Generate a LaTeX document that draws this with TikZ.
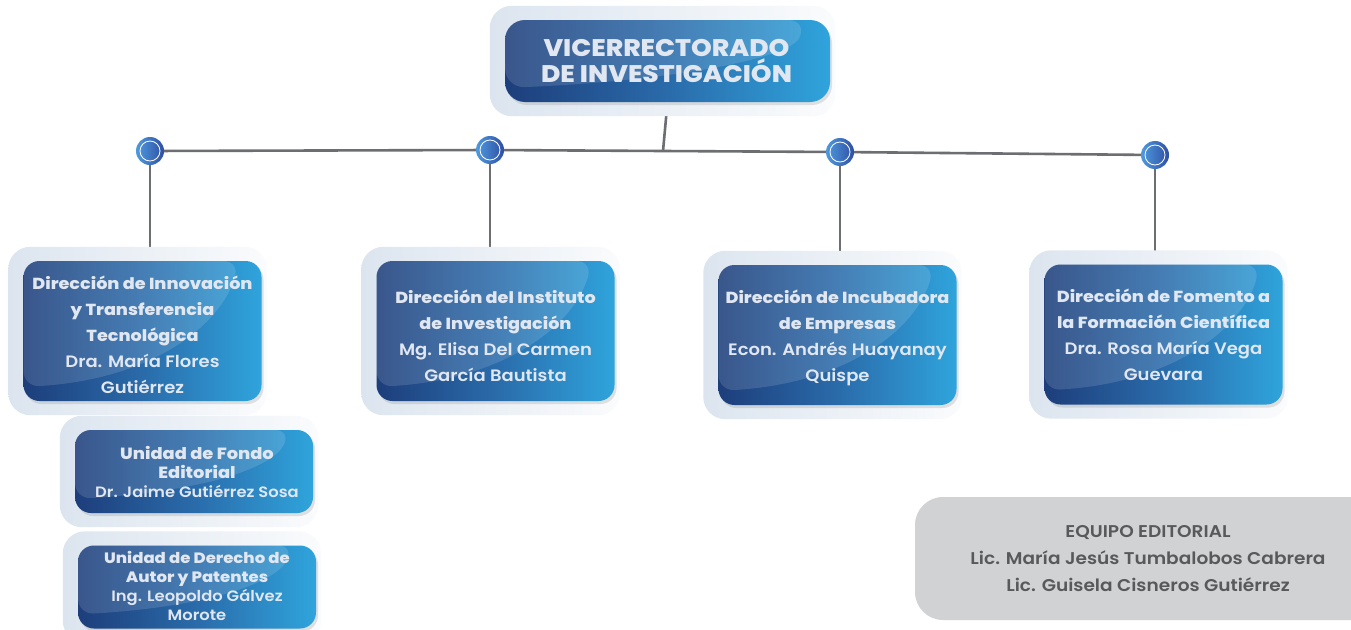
\documentclass[tikz,border=0pt]{standalone}
\usepackage{fontspec}
\setmainfont{Poppins}
\IfFontExistsTF{Poppins ExtraBold}
  {\newfontfamily\heavy{Poppins ExtraBold}[FakeStretch=1.1]}
  {\newfontfamily\heavy{Poppins}[UprightFont={* Bold},FakeStretch=1.1]}
\IfFontExistsTF{Poppins SemiBold}
  {\newfontfamily\semib{Poppins SemiBold}[FakeStretch=1.09]}
  {\IfFontExistsTF{Poppins Medium}
    {\newfontfamily\semib{Poppins Medium}[FakeStretch=1.1]}
    {\newfontfamily\semib{Poppins}[FakeStretch=1.12]}}
\newcommand\bigt{\fontsize{16}{26}\selectfont\heavy}
\newcommand\bign{\fontsize{16.5}{26}\selectfont\semib}
\newcommand\smt{\fontsize{16.2}{19}\selectfont\heavy}
\newcommand\smtb{\fontsize{15}{19}\selectfont\heavy}
\newcommand\smn{\fontsize{15}{19}\selectfont\semib}
\usetikzlibrary{calc,shadows}
\definecolor{navy}{HTML}{1D3E7B}
\definecolor{midblue}{HTML}{2A6BAA}
\definecolor{sky}{HTML}{2FA4DC}
\definecolor{txt}{HTML}{E1E7F0}
\definecolor{halocol}{HTML}{DCE5EF}
\definecolor{linegray}{HTML}{6D6E71}
\definecolor{graybox}{HTML}{D1D2D4}
\definecolor{graytxt}{HTML}{58595B}
\definecolor{dotL}{HTML}{4F9ADF}
\definecolor{dotR}{HTML}{2F4FA3}
\pgfdeclarelayer{paper}
\pgfdeclarelayer{lines}
\pgfdeclarelayer{bg}
\pgfsetlayers{paper,lines,bg,main}
\newcommand\glossfill{%
  \coordinate (gsw) at (path picture bounding box.south west);
  \coordinate (gse) at (path picture bounding box.south east);
  \coordinate (gnw) at (path picture bounding box.north west);
  \coordinate (gne) at (path picture bounding box.north east);
  \fill[white,opacity=0.13] ([yshift=14pt]gsw)
    .. controls ([yshift=22pt]$(gsw)!0.55!(gse)$) and ([xshift=-40pt]$(gse)!0.55!(gne)$)
    .. ([xshift=-22pt]gne) -- (gnw) -- cycle;}
\newcommand\halobox[1]{%
  \shade[halostyle] ([xshift=-15pt,yshift=14pt]#1.north west) rectangle ([xshift=5pt,yshift=-14pt]#1.south east);}
\tikzset{
  unit/.style={rounded corners=16pt, left color=navy, right color=sky, middle color=midblue,
    inner sep=0pt,
    drop shadow={opacity=0.22,shadow xshift=2pt,shadow yshift=-3pt},
    path picture={\glossfill}},
  utext/.style={text=txt, align=center, inner sep=0pt},
  bigtext/.style={utext, font=\fontsize{16.5}{26}\selectfont},
  smalltext/.style={utext, font=\fontsize{15.5}{19}\selectfont},
  halostyle/.style={rounded corners=22pt, left color=halocol, right color=halocol!15!white},
  bignode/.style={unit, minimum width=238pt, minimum height=140pt},
  smallnode/.style={unit, minimum width=238pt, minimum height=83pt},
  dot/.style={circle, minimum size=28pt, inner sep=0pt, left color=dotL, right color=dotR,
    path picture={\draw[white, line width=0.8pt] (path picture bounding box.center) circle (10pt);}},
  conn/.style={draw=linegray, line width=2.6pt},
}
\begin{document}
\begin{tikzpicture}[x=1pt,y=-1pt]
\clip (0,0) rectangle (1351,629);
\begin{pgfonlayer}{paper}
\fill[white] (0,0) rectangle (1351,629);
\end{pgfonlayer}

% top box
\node[unit, rounded corners=20pt, minimum width=325pt, minimum height=82pt] (top) at (667.5,61) {};
\node[utext, font=\fontsize{24}{26}\selectfont\heavy] (topt) at ([xshift=-1pt]top.center) {VICERRECTORADO\\DE INVESTIGACIÓN};

% connector dots
\node[dot] (c1) at (150,151) {};
\node[dot] (c2) at (490,150) {};
\node[dot] (c3) at (840,152) {};
\node[dot] (c4) at (1155,155) {};
\coordinate (j) at (663,151);

% department boxes
\node[bignode] (b1) at (142.5,331) {};
\node[bigtext] (b1t) at ([yshift=-4pt]b1.center) {{\bigt Dirección de Innovación}\\{\bigt y Transferencia}\\{\bigt Tecnológica}\\{\bign Dra. María Flores}\\{\bign Gutiérrez}};
\node[bignode] (b2) at (495.5,331) {};
\node[bigtext] (b2t) at ([yshift=-5pt]b2.center) {{\bigt Dirección del Instituto}\\{\bigt de Investigación}\\{\bign Mg. Elisa Del Carmen}\\{\bign García Bautista}};
\node[bignode] (b3) at (837.5,335) {};
\node[bigtext] (b3t) at ([yshift=-3pt]b3.center) {{\bigt Dirección de Incubadora}\\{\bigt de Empresas}\\{\bign Econ. Andrés Huayanay}\\{\bign Quispe}};
\node[bignode] (b4) at (1163.5,334.5) {};
\node[bigtext] (b4t) at (b4.center) {{\bigt Dirección de Fomento a}\\{\bigt la Formación Científica}\\{\bign Dra. Rosa María Vega}\\{\bign Guevara}};

% units
\node[smallnode] (s1) at (194,471.5) {};
\node[smalltext] (s1t) at ([xshift=3pt]s1.center) {{\smt Unidad de Fondo}\\{\smt Editorial}\\{\smn Dr. Jaime Gutiérrez Sosa}};
\node[smallnode] (s2) at (197,587) {};
\node[smalltext] (s2t) at ([yshift=1pt]s2.center) {{\smtb Unidad de Derecho de}\\{\smtb Autor y Patentes}\\{\smn Ing. Leopoldo Gálvez}\\{\smn Morote}};

% editorial team
\node[fill=graybox, rounded corners=28pt, minimum width=466pt, minimum height=123pt,
  align=center, text=graytxt, font=\fontsize{17}{27}\selectfont\semib] (eq) at (1148,558.5)
  {EQUIPO EDITORIAL\\Lic. María Jesús Tumbalobos Cabrera\\Lic. Guisela Cisneros Gutiérrez};

\begin{pgfonlayer}{bg}
  \halobox{top}
  \halobox{b1}
  \halobox{b2}
  \halobox{b3}
  \halobox{b4}
  \halobox{s1}
  \halobox{s2}
\end{pgfonlayer}

\begin{pgfonlayer}{lines}
  \draw[conn] (top.south) -- (j);
  \draw[conn] (c1) -- (c2) -- (j) -- (c3) -- (c4);
  \draw[conn] (c1) -- (c1 |- b1.north);
  \draw[conn] (c2) -- (c2 |- b2.north);
  \draw[conn] (c3) -- (c3 |- b3.north);
  \draw[conn] (c4) -- (c4 |- b4.north);
\end{pgfonlayer}
\end{tikzpicture}
\end{document}
